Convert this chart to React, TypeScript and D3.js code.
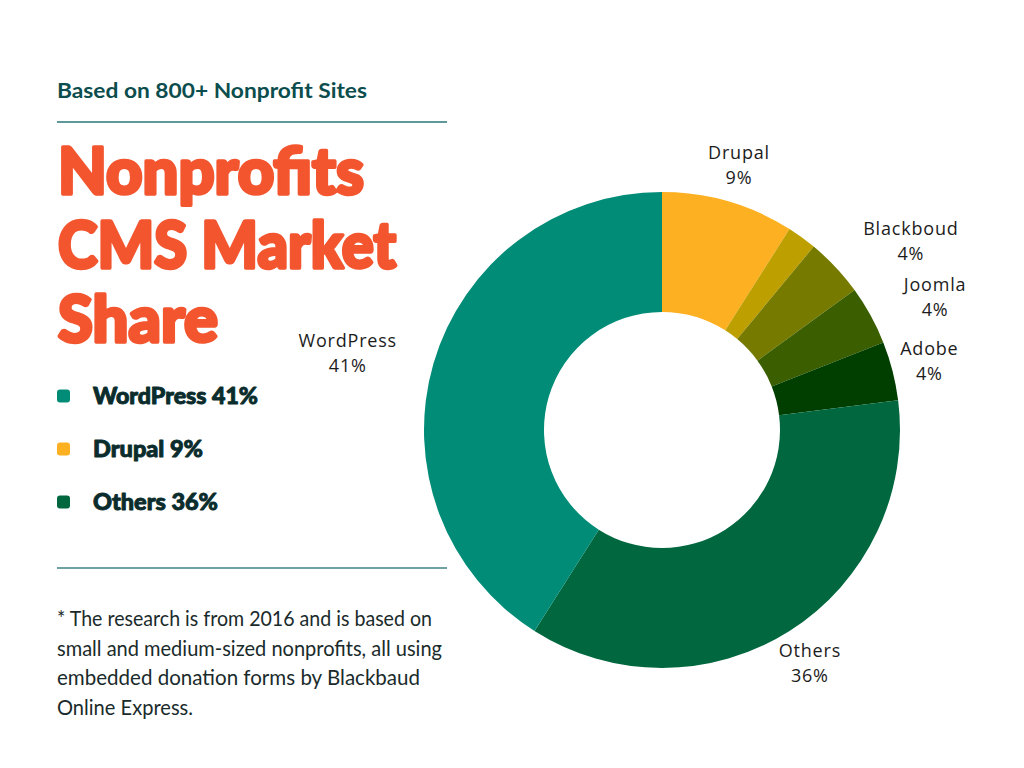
import * as d3 from "d3";
import { useEffect, useRef } from "react";

// slices, clockwise from 12 o'clock
const CMS = ["Drupal", "", "Blackboud", "Joomla", "Adobe", "Others", "WordPress"];
const SHARE = [9, 2, 4, 4, 4, 36, 41];
const COLORS = ["#FDB022", "#BE9F00", "#767B00", "#3B5F00", "#003F00", "#00673F", "#008C77"];
// how each outside label block sits against its anchor point
const LABEL_ALIGN = ["middle", "none", "start", "start", "middle", "middle", "end"];

const LEGEND = ["WordPress", "Drupal", "Others"];
const LEGEND_WIDTHS = [165, 110, 125];

const TITLE_LINES = ["Nonprofits", "CMS Market", "Share"];
const TITLE_WIDTHS = [306, 338, 160];

const NOTE_LINES = [
  "* The research is from 2016 and is based on",
  "small and medium-sized nonprofits, all using",
  "embedded donation forms by Blackbaud",
  "Online Express.",
];
const NOTE_WIDTHS = [375, 385, 363, 136];

const W = 1024;
const H = 768;
const CX = 662;
const CY = 430;
const R_OUT = 238;
const R_IN = 118;
const R_LABEL = 276;

export default function App() {
  const ref = useRef<SVGGElement>(null);

  useEffect(() => {
    const g = d3.select(ref.current);
    g.selectAll("*").remove();

    const pie = d3.pie<number>().sort(null).value((d) => d);
    const arcs = pie(SHARE);
    const arc = d3.arc<d3.PieArcDatum<number>>().innerRadius(R_IN).outerRadius(R_OUT);
    const labelArc = d3
      .arc<d3.PieArcDatum<number>>()
      .innerRadius(R_LABEL)
      .outerRadius(R_LABEL);

    const donut = g.append("g").attr("transform", `translate(${CX},${CY})`);

    donut
      .selectAll("path")
      .data(arcs)
      .enter()
      .append("path")
      .attr("d", arc)
      .attr("fill", (_, i) => COLORS[i]);

    arcs.forEach((a, i) => {
      if (!CMS[i]) return;
      const [px, py] = labelArc.centroid(a);
      const block = donut.append("g");
      const t1 = block
        .append("text")
        .attr("y", py - 6)
        .attr("text-anchor", "middle")
        .text(CMS[i]);
      const t2 = block
        .append("text")
        .attr("y", py + 19)
        .attr("text-anchor", "middle")
        .text(`${SHARE[i]}%`);
      block
        .selectAll("text")
        .attr("fill", "#1c1c1c")
        .style("font-family", "'Open Sans', sans-serif")
        .style("font-size", "18px")
        .style("letter-spacing", "0.8px");
      const bw = Math.max(
        (t1.node() as SVGTextElement).getComputedTextLength(),
        (t2.node() as SVGTextElement).getComputedTextLength()
      );
      let cx = px;
      if (LABEL_ALIGN[i] === "start") cx = px + bw / 2;
      if (LABEL_ALIGN[i] === "end") cx = px - bw / 2;
      block.selectAll("text").attr("x", cx);
    });
  }, []);

  const legendY = d3.scalePoint<string>().domain(LEGEND).range([396, 502]);

  return (
    <svg
      width={W}
      height={H}
      style={{ position: "absolute", left: 0, top: 0, background: "#fff" }}
    >
      <text
        x={57}
        y={98}
        fill="#0C4D4D"
        textLength={310}
        lengthAdjust="spacingAndGlyphs"
        style={{ fontFamily: "Lato, sans-serif", fontSize: 21, fontWeight: 700 }}
      >
        Based on 800+ Nonprofit Sites
      </text>
      <line x1={57} x2={447} y1={122} y2={122} stroke="#5E9898" strokeWidth={2} />

      {TITLE_LINES.map((t, i) => (
        <text
          key={t}
          x={58}
          y={194 + i * 74}
          fill="#F3552F"
          stroke="#F3552F"
          strokeWidth={3.5}
          strokeLinejoin="round"
          textLength={TITLE_WIDTHS[i]}
          lengthAdjust="spacingAndGlyphs"
          style={{ fontFamily: "Lato, sans-serif", fontSize: 65, fontWeight: 900 }}
        >
          {t}
        </text>
      ))}

      {LEGEND.map((name, i) => {
        const k = CMS.indexOf(name);
        const y = legendY(name)!;
        return (
          <g key={name}>
            <rect x={57} y={y - 6.5} width={13} height={13} rx={3} fill={COLORS[k]} />
            <text
              x={93}
              y={y + 8}
              fill="#0B2C2C"
              stroke="#0B2C2C"
              strokeWidth={0.9}
              strokeLinejoin="round"
              textLength={LEGEND_WIDTHS[i]}
              lengthAdjust="spacingAndGlyphs"
              style={{ fontFamily: "Lato, sans-serif", fontSize: 22, fontWeight: 900 }}
            >
              {`${name} ${SHARE[k]}%`}
            </text>
          </g>
        );
      })}

      <line x1={57} x2={447} y1={568} y2={568} stroke="#3E8282" strokeWidth={1.5} />

      {NOTE_LINES.map((t, i) => (
        <text
          key={i}
          x={57}
          y={626 + i * 29.7}
          fill="#1A2B2B"
          textLength={NOTE_WIDTHS[i]}
          lengthAdjust="spacingAndGlyphs"
          style={{ fontFamily: "Lato, sans-serif", fontSize: 21, fontWeight: 400 }}
        >
          {t}
        </text>
      ))}

      <g ref={ref} />
    </svg>
  );
}
